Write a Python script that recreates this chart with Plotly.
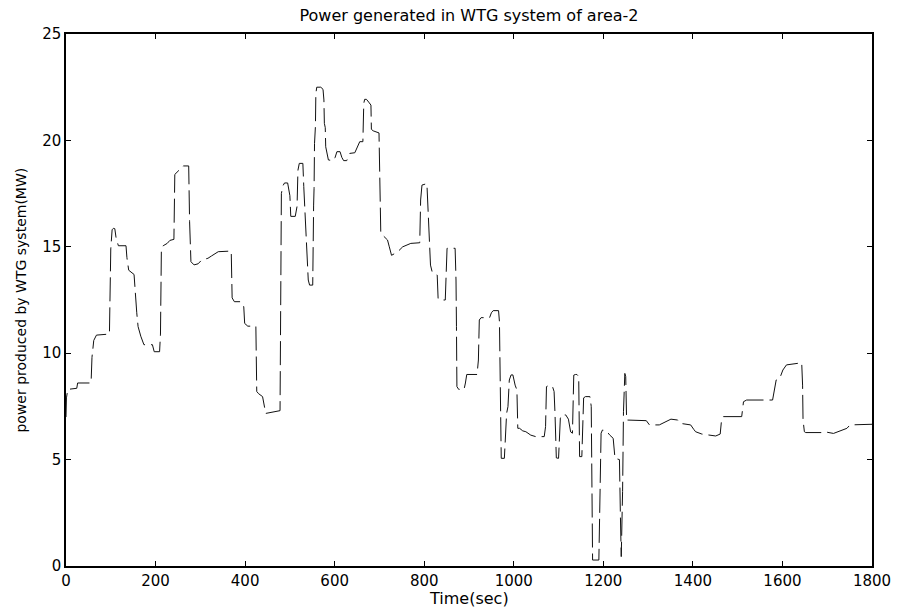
import plotly.graph_objects as go

# Time (sec) and power (MW)
time_s = [0, 1, 4, 24, 26, 56, 58, 62, 68, 97, 100, 103, 106, 109, 112, 117, 134, 136, 140, 152,
          158, 161, 167, 174, 193, 197, 209, 211, 213, 217, 226, 232, 241, 243, 262, 274, 276, 279,
          286, 295, 303, 317, 325, 340, 369, 371, 376, 391, 397, 399, 406, 424, 426, 430, 439, 443,
          446, 478, 480, 481, 484, 488, 495, 500, 502, 512, 516, 518, 521, 529, 531, 533, 536, 538,
          540, 541, 544, 551, 553, 554, 555, 557, 558, 560, 569, 574, 576, 577, 579, 580, 586, 597,
          601, 605, 612, 616, 620, 627, 631, 634, 645, 656, 663, 665, 667, 671, 676, 681, 682, 686,
          699, 700, 701, 703, 707, 718, 722, 727, 740, 752, 770, 790, 792, 795, 806, 808, 809, 814,
          818, 829, 831, 834, 847, 849, 851, 869, 871, 872, 873, 877, 889, 892, 895, 918, 921, 923,
          927, 946, 950, 954, 966, 968, 970, 972, 979, 981, 984, 987, 990, 994, 998, 1003, 1007,
          1009, 1013, 1020, 1027, 1038, 1049, 1068, 1071, 1073, 1076, 1086, 1090, 1092, 1095, 1100,
          1104, 1107, 1116, 1122, 1127, 1131, 1134, 1138, 1141, 1145, 1147, 1152, 1156, 1160, 1170,
          1173, 1176, 1190, 1193, 1195, 1198, 1207, 1214, 1218, 1222, 1226, 1236, 1238, 1240, 1243,
          1245, 1248, 1250, 1252, 1296, 1303, 1325, 1351, 1366, 1373, 1395, 1402, 1406, 1420, 1451,
          1461, 1464, 1468, 1509, 1513, 1520, 1578, 1586, 1594, 1601, 1609, 1634, 1643, 1645, 1646,
          1649, 1652, 1689, 1696, 1714, 1744, 1751, 1800]

power_mw = [7.0, 7.9, 8.3, 8.35, 8.6, 8.6, 9.8, 10.6, 10.85, 10.9, 14.9, 15.8, 15.87, 15.85, 15.4,
            15.05, 15.05, 14.5, 13.9, 13.7, 11.9, 11.25, 10.8, 10.4, 10.4, 10.07, 10.07, 10.9, 14.9,
            15.05, 15.16, 15.3, 15.35, 18.4, 18.8, 18.8, 16.2, 14.3, 14.15, 14.2, 14.38, 14.46, 14.57,
            14.77, 14.8, 12.6, 12.42, 12.42, 12.18, 11.4, 11.27, 11.27, 8.2, 8.1, 7.96, 7.5, 7.17,
            7.3, 13.1, 17.5, 17.85, 18.0, 18.0, 17.4, 16.43, 16.43, 16.9, 18.6, 18.92, 18.92, 17.83,
            17.04, 15.94, 15.0, 14.3, 13.44, 13.2, 13.2, 16.96, 17.75, 19.86, 20.64, 22.2, 22.5, 22.5,
            22.4, 21.9, 20.8, 20.6, 19.7, 19.08, 19.05, 19.2, 19.47, 19.47, 19.2, 19.05, 19.05, 19.3,
            19.39, 19.42, 19.94, 19.94, 21.74, 21.93, 21.93, 21.8, 21.66, 20.52, 20.45, 20.35, 19.2,
            16.4, 15.63, 15.55, 15.32, 15.0, 14.6, 14.75, 15.0, 15.16, 15.19, 17.2, 17.9, 17.97,
            16.96, 16.1, 14.14, 13.8, 13.67, 12.58, 12.5, 12.5, 14.2, 14.93, 14.93, 13.44, 11.25,
            8.43, 8.3, 8.3, 8.6, 9.0, 9.0, 9.68, 11.56, 11.67, 11.67, 11.9, 12.0, 12.0, 11.48, 6.24,
            5.06, 5.06, 6.31, 7.17, 7.49, 8.74, 8.98, 8.98, 8.5, 8.27, 6.47, 6.47, 6.35, 6.31, 6.15,
            6.08, 6.08, 6.55, 8.43, 8.46, 8.46, 8.2, 7.2, 5.08, 5.06, 6.95, 7.1, 7.1, 6.9, 6.3, 6.24,
            8.97, 9.0, 9.0, 8.9, 5.14, 5.14, 7.9, 7.96, 7.96, 7.5, 0.28, 0.28, 5.3, 6.24, 6.39, 6.35,
            6.16, 6.08, 6.0, 5.06, 5.0, 2.5, 0.44, 3.5, 7.25, 9.05, 8.9, 6.86, 6.83, 6.63, 6.63, 6.9,
            6.86, 6.7, 6.63, 6.42, 6.31, 6.2, 6.11, 6.2, 6.86, 7.02, 7.02, 7.72, 7.8, 7.8, 8.74, 8.82,
            9.21, 9.45, 9.55, 9.55, 8.5, 6.86, 6.31, 6.27, 6.27, 6.3, 6.23, 6.47, 6.63, 6.66]

x_ticks = [0, 200, 400, 600, 800, 1000, 1200, 1400, 1600, 1800]
y_ticks = [0, 5, 10, 15, 20, 25]

FONT = "DejaVu Sans, Liberation Sans, Arial, sans-serif"

fig = go.Figure()
fig.add_trace(go.Scatter(
    x=time_s, y=power_mw, mode="lines",
    line=dict(color="#111111", width=1, dash="24px,6px"),
    showlegend=False, hoverinfo="skip"))

axis_common = dict(
    showgrid=False, zeroline=False, showline=True, linecolor="black", linewidth=1.5,
    mirror="allticks", ticks="inside", ticklen=5, tickwidth=1, tickcolor="black",
    tickfont=dict(family=FONT, size=15, color="black"))

fig.update_xaxes(range=[0, 1800], tickvals=x_ticks, ticktext=[str(v) for v in x_ticks], **axis_common)
fig.update_yaxes(range=[0, 25], tickvals=y_ticks, ticktext=[str(v) for v in y_ticks], **axis_common)

fig.update_layout(
    width=903, height=610,
    margin=dict(l=66, r=21, t=34, b=44),
    paper_bgcolor="white", plot_bgcolor="white",
    title=dict(text="Power generated in WTG system of area-2", x=0.5, xref="paper",
               y=1 - 15 / 610, yref="container", yanchor="middle", xanchor="center",
               font=dict(family=FONT, size=16, color="black")),
    annotations=[
        dict(text="Time(sec)", x=0.5, y=-(598 - 566) / 532, xref="paper", yref="paper",
             showarrow=False, xanchor="center", yanchor="middle",
             font=dict(family=FONT, size=16, color="black")),
        dict(text="power produced by WTG system(MW)", x=(20 - 66) / 816, y=0.5,
             xref="paper", yref="paper", showarrow=False, textangle=-90,
             xanchor="center", yanchor="middle",
             font=dict(family=FONT, size=14, color="black")),
    ],
)

fig.write_html("out.html")
